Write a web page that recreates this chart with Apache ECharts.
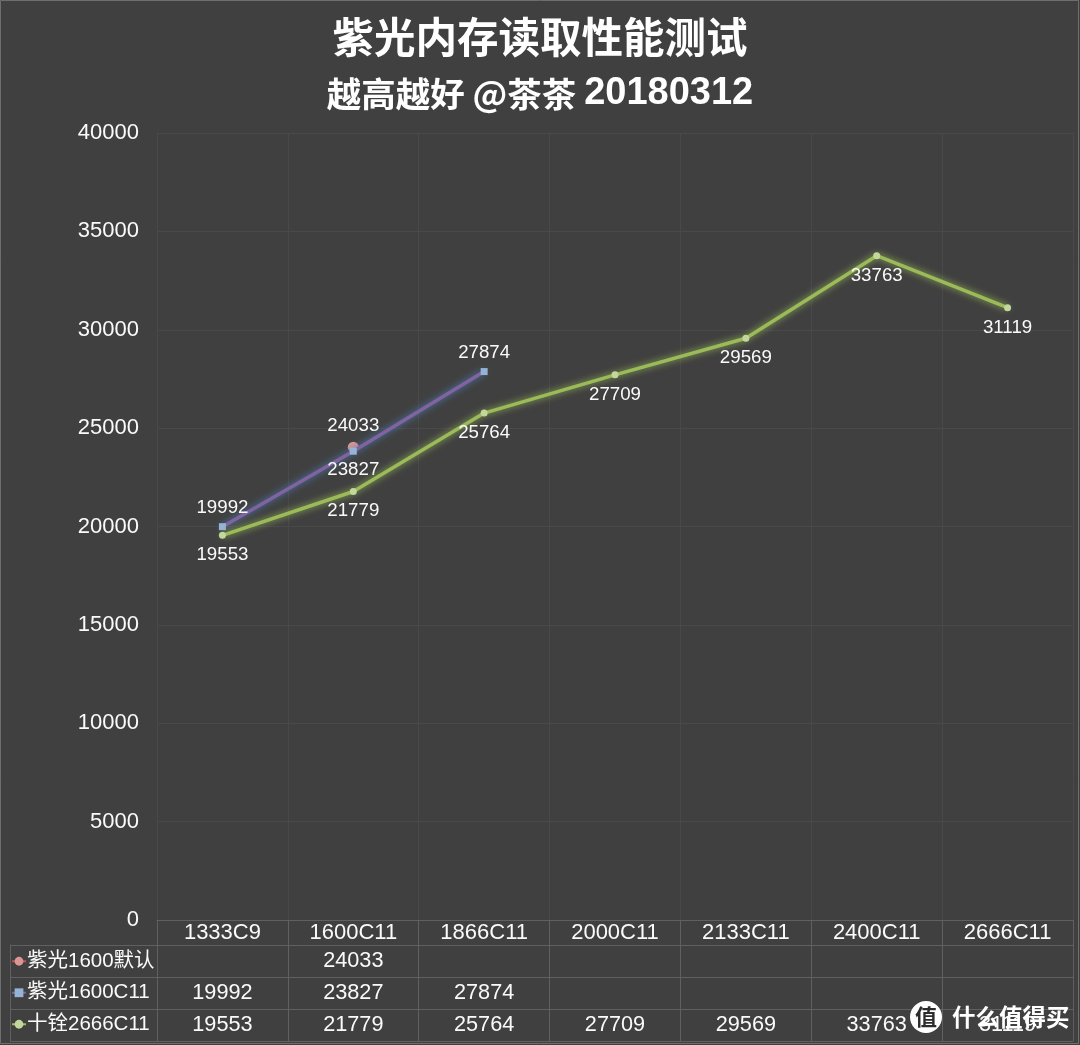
<!DOCTYPE html>
<html>
<head>
<meta charset="utf-8">
<script src="https://cdn.jsdelivr.net/npm/echarts@6/dist/echarts.min.js"></script>
<style>
html, body { margin: 0; padding: 0; background: #404040; }
#main { width: 1080px; height: 1045px; }
</style>
</head>
<body>
<div id="main"></div>
<script>
var categories = ['1333C9', '1600C11', '1866C11', '2000C11', '2133C11', '2400C11', '2666C11'];
var seriesNames = ['紫光1600默认', '紫光1600C11', '十铨2666C11'];
var unicDefault = [null, 24033, null, null, null, null, null];
var unicC11 = [19992, 23827, 27874, null, null, null, null];
var teamC11 = [19553, 21779, 25764, 27709, 29569, 33763, 31119];
var rows = [unicDefault, unicC11, teamC11];

var fontFamily = '"Liberation Sans", "Noto Sans CJK SC", sans-serif';
var cjkFont = '"Noto Sans CJK SC", sans-serif';
var textColor = '#fafafa';
var gridColor = '#494949';
var tableColor = '#606060';

// table cells, one point per filled cell
var tableCells = [];
rows.forEach(function (row, r) {
  row.forEach(function (v, c) {
    if (v != null) tableCells.push([c, r, v]);
  });
});

function pointLabel(position, distance) {
  return { show: true, position: position, color: textColor, fontSize: 18.7, fontFamily: fontFamily, distance: distance };
}

var chart = echarts.init(document.getElementById('main'));
var seriesList = [
  { name: seriesNames[0], type: 'line', data: unicDefault, symbol: 'circle', symbolSize: 11, z: 2,
    lineStyle: { color: '#c0504d', width: 3 },
    itemStyle: { color: '#d99694' },
    label: pointLabel('top', 6) },
  { name: seriesNames[1], type: 'line', data: unicC11.map(function (v, i) {
      return { value: v, label: { position: i === 1 ? 'bottom' : 'top' } };
    }), symbol: 'rect', symbolSize: 7, z: 3,
    lineStyle: { color: '#8064a2', width: 3.5, shadowColor: '#4f81bd', shadowBlur: 7 },
    itemStyle: { color: '#95b3d7' },
    label: pointLabel('top', 6) },
  { name: seriesNames[2], type: 'line', data: teamC11, symbol: 'circle', symbolSize: 7, z: 4,
    lineStyle: { color: '#9bbb59', width: 3.5, shadowColor: '#9bbb59', shadowBlur: 7 },
    itemStyle: { color: '#c3d69b' },
    label: pointLabel('bottom', 7) },
  { name: 'table', type: 'scatter', xAxisIndex: 1, yAxisIndex: 1, data: tableCells, symbolSize: 0, silent: true,
    itemStyle: { opacity: 1 },
    label: { show: true, position: 'inside', color: textColor, fontSize: 21.7, fontFamily: fontFamily,
      formatter: function (p) { return p.data[2]; } } }
];

chart.setOption({
  backgroundColor: '#404040',
  animation: false,
  textStyle: { fontFamily: fontFamily },
  title: [
    { text: '紫光内存读取性能测试', left: 'center', top: 11,
      textStyle: { color: '#fff', fontSize: 41.5, fontWeight: 'bold', fontFamily: cjkFont } },
    { text: '{a|越高越好 @茶茶 }{b|20180312}', left: 'center', top: 70,
      textStyle: { rich: {
        a: { color: '#fff', fontSize: 34.5, fontWeight: 'bold', fontFamily: cjkFont },
        b: { color: '#fff', fontSize: 38, fontWeight: 'bold', fontFamily: fontFamily }
      } } }
  ],
  legend: {
    data: seriesNames,
    orient: 'vertical',
    left: 11,
    top: 951,
    itemWidth: 14,
    itemHeight: 11,
    itemGap: 11,
    padding: 0,
    selectedMode: false,
    textStyle: { color: textColor, fontSize: 20.5, fontFamily: fontFamily, padding: [0, 0, 0, -4] }
  },
  grid: [
    { left: 157, right: 7, top: 133, height: 787 },
    { left: 157, right: 7, top: 945, height: 96 }
  ],
  xAxis: [
    { type: 'category', gridIndex: 0, data: categories, position: 'bottom',
      axisLine: { show: true, lineStyle: { color: tableColor } },
      axisTick: { show: false }, axisLabel: { show: false },
      splitLine: { show: true, lineStyle: { color: gridColor } } },
    { type: 'category', gridIndex: 1, data: categories, position: 'top',
      axisLine: { show: true, lineStyle: { color: tableColor } },
      axisTick: { show: true, length: 25, lineStyle: { color: tableColor } },
      axisLabel: { show: true, color: textColor, fontSize: 22, margin: 1 },
      splitLine: { show: true, lineStyle: { color: tableColor } } }
  ],
  yAxis: [
    { type: 'value', gridIndex: 0, min: 0, max: 40000, interval: 5000,
      axisLine: { show: true, lineStyle: { color: gridColor } },
      axisTick: { show: false },
      axisLabel: { color: textColor, fontSize: 22, margin: 18, padding: [3, 0, 0, 0], formatter: function (v) { return String(v); } },
      splitLine: { show: true, lineStyle: { color: gridColor } } },
    { type: 'category', gridIndex: 1, data: seriesNames, inverse: true,
      axisLine: { show: true, lineStyle: { color: tableColor } },
      axisTick: { show: true, length: 147, lineStyle: { color: tableColor } },
      axisLabel: { show: false },
      splitLine: { show: true, lineStyle: { color: tableColor } } },
    { type: 'category', gridIndex: 1, data: seriesNames, inverse: true, position: 'left', offset: 147,
      axisLine: { show: true, lineStyle: { color: tableColor } },
      axisTick: { show: false }, axisLabel: { show: false }, splitLine: { show: false } }
  ],
  series: seriesList,
  graphic: [
    { type: 'rect', shape: { x: 0.5, y: 0.5, width: 1078, height: 1043 }, silent: true, z: -1,
      style: { fill: 'transparent', stroke: '#6e6e6e', lineWidth: 1 } },
    { type: 'circle', shape: { cx: 926, cy: 1017, r: 16 }, silent: true, z: 20, style: { fill: '#fff' } },
    { type: 'text', x: 926, y: 1017, silent: true, z: 21,
      style: { text: '值', fill: '#2b2b2b', font: 'bold 22px ' + cjkFont, align: 'center', verticalAlign: 'middle' } },
    { type: 'text', x: 952, y: 1017, silent: true, z: 21,
      style: { text: '什么值得买', fill: '#fff', font: 'bold 23.5px ' + cjkFont, align: 'left', verticalAlign: 'middle' } }
  ]
});
</script>
</body>
</html>
